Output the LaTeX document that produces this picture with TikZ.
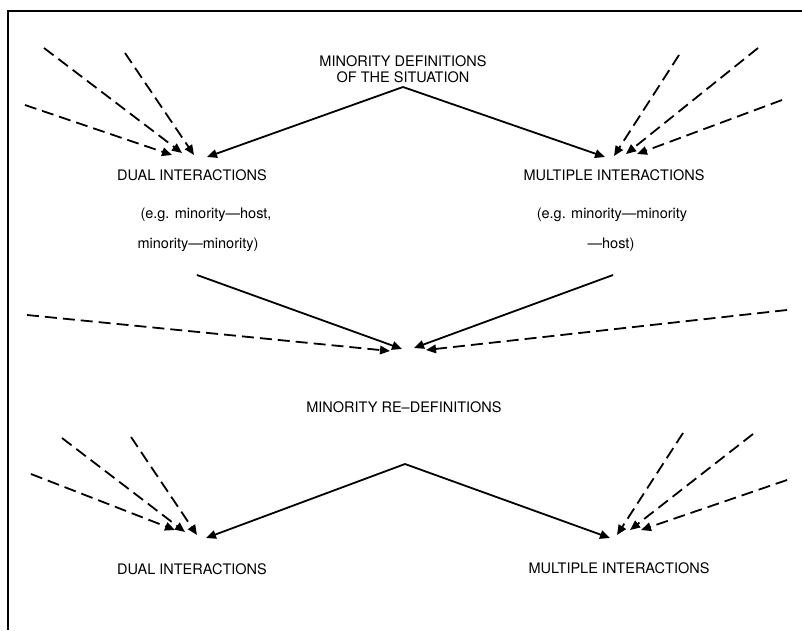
\documentclass[tikz,border=0pt]{standalone}
\usepackage{fontspec}
\setmainfont{TeX Gyre Heros}
\usetikzlibrary{arrows.meta}
\tikzset{
  lbl/.style={font=\fontsize{14.5}{16}\selectfont, inner sep=0pt, anchor=center},
  tipstyle/.style={-{Triangle[length=10pt,width=8.5pt]}},
  solidarr/.style={line width=1.8pt, tipstyle},
  dasharr/.style={line width=1.8pt, dash pattern=on 12pt off 6pt, tipstyle},
  frame/.style={line width=1.8pt}
}
\begin{document}
\begin{tikzpicture}[x=1pt,y=-1pt]
\useasboundingbox (0,0) rectangle (802,630);
% frame
\coordinate (ftl) at (8,11);
\coordinate (ftr) at (802,11);
\coordinate (fbl) at (8,630);
\draw[frame] (ftr) -- (ftl) -- (fbl);

% ---------- top section ----------
\node[lbl] (t1) at (403,61) {MINORITY DEFINITIONS};
\node[lbl] (t2) at (403,77) {OF THE SITUATION};
\coordinate (apex1) at (403,87);
\coordinate (dual1) at (207,157);
\coordinate (mult1) at (605,157);
\draw[solidarr] (apex1) -- (dual1);
\draw[solidarr] (apex1) -- (mult1);

\coordinate (la1) at (44,48);  \coordinate (la1e) at (182,153);
\coordinate (la2) at (125,53); \coordinate (la2e) at (194,155);
\coordinate (la3) at (25,105); \coordinate (la3e) at (172,155);
\draw[dasharr] (la1) -- (la1e);
\draw[dasharr] (la2) -- (la2e);
\draw[dasharr] (la3) -- (la3e);

\coordinate (ra1) at (679,55);  \coordinate (ra1e) at (614,156);
\coordinate (ra2) at (758,48);  \coordinate (ra2e) at (626,154);
\coordinate (ra3) at (782,100); \coordinate (ra3e) at (637,154);
\draw[dasharr] (ra1) -- (ra1e);
\draw[dasharr] (ra2) -- (ra2e);
\draw[dasharr] (ra3) -- (ra3e);

\node[lbl] (dualA) at (192,175) {DUAL INTERACTIONS};
\node[lbl] (dualB) at (206,215) {(e.g. minority---host,};
\node[lbl] (dualC) at (198,245) {minority---minority)};
\node[lbl] (multA) at (614,175) {MULTIPLE INTERACTIONS};
\node[lbl] (multB) at (612,215) {(e.g. minority---minority};
\node[lbl] (multC) at (611,245) {---host)};

% ---------- middle ----------
\coordinate (ms1) at (197,275); \coordinate (me1) at (402,349);
\coordinate (ms2) at (613,275); \coordinate (me2) at (414,348);
\coordinate (md1) at (27,315);  \coordinate (mde1) at (390,351);
\coordinate (md2) at (787,310); \coordinate (mde2) at (426,350);
\draw[solidarr] (ms1) -- (me1);
\draw[solidarr] (ms2) -- (me2);
\draw[dasharr] (md1) -- (mde1);
\draw[dasharr] (md2) -- (mde2);

\node[lbl] (redef) at (404,407) {MINORITY RE--DEFINITIONS};

% ---------- bottom section ----------
\coordinate (apex2) at (405,464);
\coordinate (dual2) at (206,538);
\coordinate (mult2) at (610,538);
\draw[solidarr] (apex2) -- (dual2);
\draw[solidarr] (apex2) -- (mult2);

\coordinate (lb1) at (62,438);  \coordinate (lb1e) at (185,532);
\coordinate (lb2) at (131,437); \coordinate (lb2e) at (197,535);
\coordinate (lb3) at (31,474);  \coordinate (lb3e) at (175,530);
\draw[dasharr] (lb1) -- (lb1e);
\draw[dasharr] (lb2) -- (lb2e);
\draw[dasharr] (lb3) -- (lb3e);

\coordinate (rb1) at (683,433); \coordinate (rb1e) at (617,535);
\coordinate (rb2) at (753,434); \coordinate (rb2e) at (630,530);
\coordinate (rb3) at (787,480); \coordinate (rb3e) at (641,530);
\draw[dasharr] (rb1) -- (rb1e);
\draw[dasharr] (rb2) -- (rb2e);
\draw[dasharr] (rb3) -- (rb3e);

\node[lbl] (dualD) at (192,569) {DUAL INTERACTIONS};
\node[lbl] (multD) at (619,568) {MULTIPLE INTERACTIONS};
\end{tikzpicture}
\end{document}
